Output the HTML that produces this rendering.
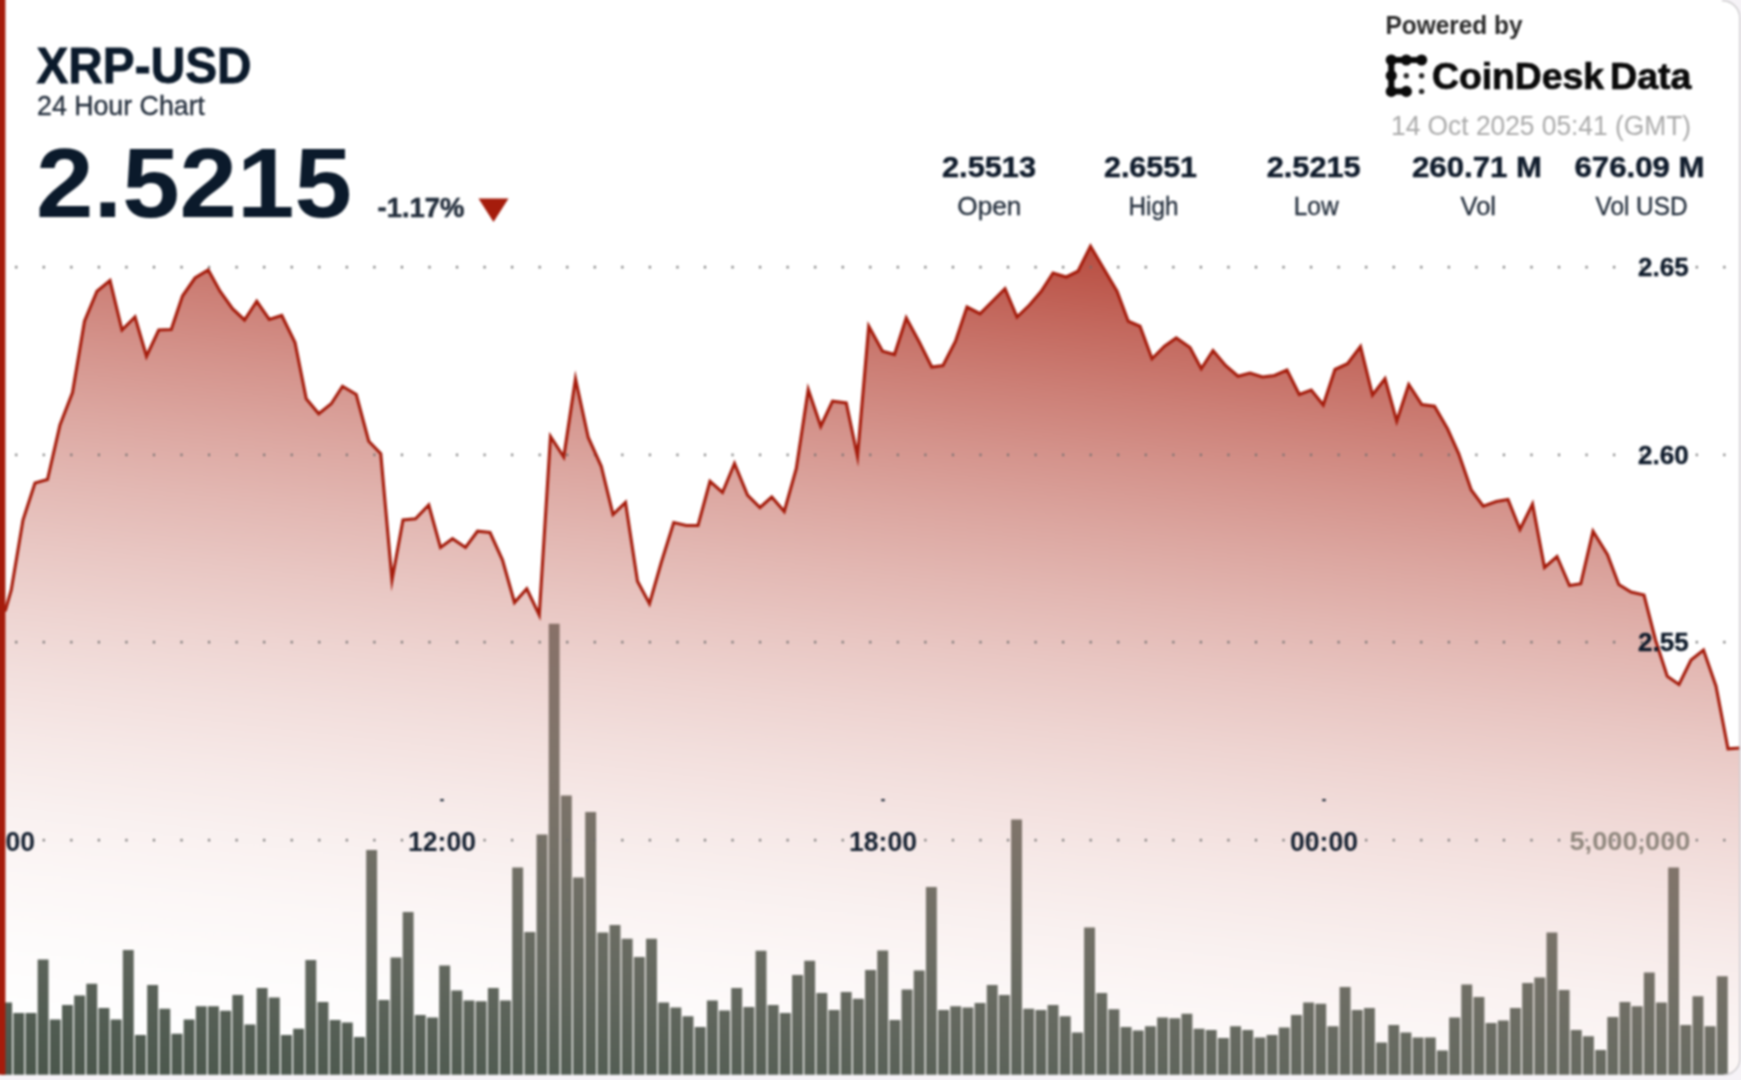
<!DOCTYPE html>
<html lang="en"><head><meta charset="utf-8"><title>XRP-USD 24 Hour Chart</title>
<style>
html,body{margin:0;padding:0;}
body{width:1741px;height:1080px;overflow:hidden;background:#f6f3f7;font-family:"Liberation Sans",sans-serif;}
svg{display:block;position:absolute;left:0;top:0;}
text{font-family:"Liberation Sans",sans-serif;}
.b{font-weight:bold;}
</style></head><body>
<svg width="1741" height="1080" viewBox="0 0 1741 1080">
<defs>
<linearGradient id="ga" gradientUnits="userSpaceOnUse" x1="0" y1="0" x2="-122.1" y2="1061.3">
<stop offset="0.0000" stop-color="#a51c0c" stop-opacity="1.0000"/>
<stop offset="0.0625" stop-color="#a51c0c" stop-opacity="0.8789"/>
<stop offset="0.1250" stop-color="#a51c0c" stop-opacity="0.7656"/>
<stop offset="0.1875" stop-color="#a51c0c" stop-opacity="0.6602"/>
<stop offset="0.2500" stop-color="#a51c0c" stop-opacity="0.5625"/>
<stop offset="0.3125" stop-color="#a51c0c" stop-opacity="0.4727"/>
<stop offset="0.3750" stop-color="#a51c0c" stop-opacity="0.3906"/>
<stop offset="0.4375" stop-color="#a51c0c" stop-opacity="0.3164"/>
<stop offset="0.5000" stop-color="#a51c0c" stop-opacity="0.2500"/>
<stop offset="0.5625" stop-color="#a51c0c" stop-opacity="0.1914"/>
<stop offset="0.6250" stop-color="#a51c0c" stop-opacity="0.1406"/>
<stop offset="0.6875" stop-color="#a51c0c" stop-opacity="0.0977"/>
<stop offset="0.7500" stop-color="#a51c0c" stop-opacity="0.0625"/>
<stop offset="0.8125" stop-color="#a51c0c" stop-opacity="0.0352"/>
<stop offset="0.8750" stop-color="#a51c0c" stop-opacity="0.0156"/>
<stop offset="0.9375" stop-color="#a51c0c" stop-opacity="0.0039"/>
<stop offset="1.0000" stop-color="#a51c0c" stop-opacity="0.0000"/>
</linearGradient>
<linearGradient id="gb" gradientUnits="userSpaceOnUse" x1="0" y1="0" x2="-122.1" y2="1061.3">
<stop offset="0.4000" stop-color="rgb(133,143,136)"/>
<stop offset="0.5410" stop-color="rgb(127,137,130)"/>
<stop offset="0.6640" stop-color="rgb(121,127,118)"/>
<stop offset="0.8540" stop-color="rgb(97,105,96)"/>
<stop offset="0.9450" stop-color="rgb(81,92,82)"/>
<stop offset="1.0000" stop-color="rgb(74,86,75)"/>
<stop offset="1.2000" stop-color="rgb(66,78,67)"/>
</linearGradient>
<clipPath id="card"><path d="M-12 -12H1721.9V0A18 18 0 0 1 1739.9 18V1058.8A16 16 0 0 1 1723.9 1074.8H-12Z"/></clipPath>
<filter id="soft" color-interpolation-filters="sRGB" x="-12" y="-12" width="1765" height="1104" filterUnits="userSpaceOnUse"><feGaussianBlur stdDeviation="0.9"/></filter>
</defs>
<rect x="0" y="0" width="1741" height="1080" fill="#f6f3f7"/>
<g filter="url(#soft)">
<rect x="-12" y="-12" width="1765" height="1104" fill="#f6f3f7"/>
<path d="M-12 -12H1721.9V0A18 18 0 0 1 1739.9 18V1058.8A16 16 0 0 1 1723.9 1074.8H-12Z" fill="#ffffff"/>
<g clip-path="url(#card)">
<g id="bars" fill="url(#gb)">
<rect x="1.15" y="1002.5" width="10.9" height="75.3"/>
<rect x="13.32" y="1013" width="10.9" height="64.8"/>
<rect x="25.49" y="1013" width="10.9" height="64.8"/>
<rect x="37.65" y="959.5" width="10.9" height="118.3"/>
<rect x="49.82" y="1019.5" width="10.9" height="58.3"/>
<rect x="61.99" y="1005" width="10.9" height="72.8"/>
<rect x="74.16" y="995.5" width="10.9" height="82.3"/>
<rect x="86.33" y="983.75" width="10.9" height="94.05"/>
<rect x="98.49" y="1008" width="10.9" height="69.8"/>
<rect x="110.66" y="1019.5" width="10.9" height="58.3"/>
<rect x="122.83" y="950" width="10.9" height="127.8"/>
<rect x="135" y="1035" width="10.9" height="42.8"/>
<rect x="147.17" y="985" width="10.9" height="92.8"/>
<rect x="159.33" y="1008.75" width="10.9" height="69.05"/>
<rect x="171.5" y="1033.75" width="10.9" height="44.05"/>
<rect x="183.67" y="1019.5" width="10.9" height="58.3"/>
<rect x="195.84" y="1006.25" width="10.9" height="71.55"/>
<rect x="208.01" y="1006.25" width="10.9" height="71.55"/>
<rect x="220.17" y="1010.75" width="10.9" height="67.05"/>
<rect x="232.34" y="995" width="10.9" height="82.8"/>
<rect x="244.51" y="1024.5" width="10.9" height="53.3"/>
<rect x="256.68" y="988" width="10.9" height="89.8"/>
<rect x="268.85" y="997.5" width="10.9" height="80.3"/>
<rect x="281.01" y="1035" width="10.9" height="42.8"/>
<rect x="293.18" y="1028.75" width="10.9" height="49.05"/>
<rect x="305.35" y="960" width="10.9" height="117.8"/>
<rect x="317.52" y="1002" width="10.9" height="75.8"/>
<rect x="329.69" y="1020" width="10.9" height="57.8"/>
<rect x="341.85" y="1022.5" width="10.9" height="55.3"/>
<rect x="354.02" y="1037" width="10.9" height="40.8"/>
<rect x="366.19" y="850" width="10.9" height="227.8"/>
<rect x="378.36" y="1000" width="10.9" height="77.8"/>
<rect x="390.53" y="957.5" width="10.9" height="120.3"/>
<rect x="402.69" y="912" width="10.9" height="165.8"/>
<rect x="414.86" y="1015" width="10.9" height="62.8"/>
<rect x="427.03" y="1017.5" width="10.9" height="60.3"/>
<rect x="439.2" y="965.5" width="10.9" height="112.3"/>
<rect x="451.37" y="990.5" width="10.9" height="87.3"/>
<rect x="463.53" y="1000.5" width="10.9" height="77.3"/>
<rect x="475.7" y="1001.25" width="10.9" height="76.55"/>
<rect x="487.87" y="988" width="10.9" height="89.8"/>
<rect x="500.04" y="1000.5" width="10.9" height="77.3"/>
<rect x="512.21" y="867.5" width="10.9" height="210.3"/>
<rect x="524.37" y="932" width="10.9" height="145.8"/>
<rect x="536.54" y="834.5" width="10.9" height="243.3"/>
<rect x="548.71" y="623.75" width="10.9" height="454.05"/>
<rect x="560.88" y="795.5" width="10.9" height="282.3"/>
<rect x="573.05" y="877.5" width="10.9" height="200.3"/>
<rect x="585.21" y="812" width="10.9" height="265.8"/>
<rect x="597.38" y="932.5" width="10.9" height="145.3"/>
<rect x="609.55" y="925" width="10.9" height="152.8"/>
<rect x="621.72" y="938.75" width="10.9" height="139.05"/>
<rect x="633.89" y="957" width="10.9" height="120.8"/>
<rect x="646.05" y="938.75" width="10.9" height="139.05"/>
<rect x="658.22" y="1002.5" width="10.9" height="75.3"/>
<rect x="670.39" y="1007.5" width="10.9" height="70.3"/>
<rect x="682.56" y="1016.25" width="10.9" height="61.55"/>
<rect x="694.73" y="1027" width="10.9" height="50.8"/>
<rect x="706.89" y="1000.5" width="10.9" height="77.3"/>
<rect x="719.06" y="1010.5" width="10.9" height="67.3"/>
<rect x="731.23" y="988" width="10.9" height="89.8"/>
<rect x="743.4" y="1007" width="10.9" height="70.8"/>
<rect x="755.57" y="950.75" width="10.9" height="127.05"/>
<rect x="767.73" y="1005" width="10.9" height="72.8"/>
<rect x="779.9" y="1013" width="10.9" height="64.8"/>
<rect x="792.07" y="975" width="10.9" height="102.8"/>
<rect x="804.24" y="960.75" width="10.9" height="117.05"/>
<rect x="816.41" y="993" width="10.9" height="84.8"/>
<rect x="828.57" y="1010" width="10.9" height="67.8"/>
<rect x="840.74" y="992" width="10.9" height="85.8"/>
<rect x="852.91" y="998.75" width="10.9" height="79.05"/>
<rect x="865.08" y="970" width="10.9" height="107.8"/>
<rect x="877.25" y="950.5" width="10.9" height="127.3"/>
<rect x="889.41" y="1020" width="10.9" height="57.8"/>
<rect x="901.58" y="989.5" width="10.9" height="88.3"/>
<rect x="913.75" y="970.5" width="10.9" height="107.3"/>
<rect x="925.92" y="887" width="10.9" height="190.8"/>
<rect x="938.09" y="1010" width="10.9" height="67.8"/>
<rect x="950.25" y="1006.25" width="10.9" height="71.55"/>
<rect x="962.42" y="1007.5" width="10.9" height="70.3"/>
<rect x="974.59" y="1003" width="10.9" height="74.8"/>
<rect x="986.76" y="985" width="10.9" height="92.8"/>
<rect x="998.93" y="995" width="10.9" height="82.8"/>
<rect x="1011.09" y="819.5" width="10.9" height="258.3"/>
<rect x="1023.26" y="1008.75" width="10.9" height="69.05"/>
<rect x="1035.43" y="1010" width="10.9" height="67.8"/>
<rect x="1047.6" y="1005" width="10.9" height="72.8"/>
<rect x="1059.77" y="1016.25" width="10.9" height="61.55"/>
<rect x="1071.93" y="1032.5" width="10.9" height="45.3"/>
<rect x="1084.1" y="927.5" width="10.9" height="150.3"/>
<rect x="1096.27" y="993" width="10.9" height="84.8"/>
<rect x="1108.44" y="1009.25" width="10.9" height="68.55"/>
<rect x="1120.61" y="1027" width="10.9" height="50.8"/>
<rect x="1132.77" y="1030.5" width="10.9" height="47.3"/>
<rect x="1144.94" y="1026.25" width="10.9" height="51.55"/>
<rect x="1157.11" y="1017.5" width="10.9" height="60.3"/>
<rect x="1169.28" y="1018.25" width="10.9" height="59.55"/>
<rect x="1181.45" y="1013.75" width="10.9" height="64.05"/>
<rect x="1193.61" y="1028.75" width="10.9" height="49.05"/>
<rect x="1205.78" y="1030" width="10.9" height="47.8"/>
<rect x="1217.95" y="1038" width="10.9" height="39.8"/>
<rect x="1230.12" y="1026.25" width="10.9" height="51.55"/>
<rect x="1242.29" y="1030" width="10.9" height="47.8"/>
<rect x="1254.45" y="1037.5" width="10.9" height="40.3"/>
<rect x="1266.62" y="1035" width="10.9" height="42.8"/>
<rect x="1278.79" y="1027.5" width="10.9" height="50.3"/>
<rect x="1290.96" y="1015" width="10.9" height="62.8"/>
<rect x="1303.13" y="1002.5" width="10.9" height="75.3"/>
<rect x="1315.29" y="1003.75" width="10.9" height="74.05"/>
<rect x="1327.46" y="1026.25" width="10.9" height="51.55"/>
<rect x="1339.63" y="987" width="10.9" height="90.8"/>
<rect x="1351.8" y="1010" width="10.9" height="67.8"/>
<rect x="1363.97" y="1008" width="10.9" height="69.8"/>
<rect x="1376.13" y="1042.5" width="10.9" height="35.3"/>
<rect x="1388.3" y="1025" width="10.9" height="52.8"/>
<rect x="1400.47" y="1032.5" width="10.9" height="45.3"/>
<rect x="1412.64" y="1037.5" width="10.9" height="40.3"/>
<rect x="1424.81" y="1037.5" width="10.9" height="40.3"/>
<rect x="1436.97" y="1050.5" width="10.9" height="27.3"/>
<rect x="1449.14" y="1017.5" width="10.9" height="60.3"/>
<rect x="1461.31" y="984.5" width="10.9" height="93.3"/>
<rect x="1473.48" y="997" width="10.9" height="80.8"/>
<rect x="1485.65" y="1023" width="10.9" height="54.8"/>
<rect x="1497.81" y="1020.5" width="10.9" height="57.3"/>
<rect x="1509.98" y="1008" width="10.9" height="69.8"/>
<rect x="1522.15" y="983" width="10.9" height="94.8"/>
<rect x="1534.32" y="977.5" width="10.9" height="100.3"/>
<rect x="1546.49" y="932.5" width="10.9" height="145.3"/>
<rect x="1558.65" y="990" width="10.9" height="87.8"/>
<rect x="1570.82" y="1030" width="10.9" height="47.8"/>
<rect x="1582.99" y="1036.25" width="10.9" height="41.55"/>
<rect x="1595.16" y="1050" width="10.9" height="27.8"/>
<rect x="1607.33" y="1017" width="10.9" height="60.8"/>
<rect x="1619.49" y="1002" width="10.9" height="75.8"/>
<rect x="1631.66" y="1006.25" width="10.9" height="71.55"/>
<rect x="1643.83" y="972.5" width="10.9" height="105.3"/>
<rect x="1656" y="1002.5" width="10.9" height="75.3"/>
<rect x="1668.17" y="867.5" width="10.9" height="210.3"/>
<rect x="1680.33" y="1025" width="10.9" height="52.8"/>
<rect x="1692.5" y="996.25" width="10.9" height="81.55"/>
<rect x="1704.67" y="1026.25" width="10.9" height="51.55"/>
<rect x="1716.84" y="976.25" width="10.9" height="101.55"/>
</g>
<polygon points="-12,1074.8 -12,612 0,612 5.5,610 11.25,590 23,520 35,483 47.5,479.5 60,425 72.5,392.5 84.5,321.25 97,291.25 110,280.5 122,330 135,317 146.5,356.25 158.75,330 171.25,329.5 182.5,296 195,278 208.25,270 220,291.25 232.5,308.75 244.5,320 256.75,301.25 269.25,319.5 281.75,315.5 295,342.5 306.25,398.75 318.75,413.75 331.25,403.75 342.5,386.25 356.25,394.5 368.75,441.25 380.75,453.75 392,580 403,520 415.5,518.75 428.75,505 440.5,547.5 452.5,538.75 465.5,547.5 477.5,531.25 490,532.5 502.5,560 514.5,602.5 526.75,588.75 539.25,615 550.5,436.5 563.75,457 575.5,378.75 588.25,437.5 601.25,466.25 613,514.5 625.5,502.5 637.5,581.25 649.5,603.75 661.25,562.5 673.75,522.5 686.25,525.5 698,525.5 710,481.25 722.5,492.5 734.5,463.5 747.5,495 760,507.5 771.75,497 784.25,511.5 796.25,468.75 808.25,389.5 820.75,426.25 832.5,401.25 846.25,403 857.5,456.5 868.75,326.25 882.5,351.25 894.5,354.5 906.25,318 919.5,342.5 931.75,367 943,365.5 955.5,341.25 967,307 980,313.75 992.5,301.25 1005,288.75 1017,317 1029.5,305 1041.25,291.25 1053,273 1066.25,277 1078,271.25 1090.5,246.25 1103.75,268.75 1117,291.25 1128.25,321.25 1140,326.25 1152,358.75 1164.5,346.25 1176.25,338 1190,347.5 1201.25,368.75 1213,350.5 1225.5,365.5 1238,376.25 1250,373 1262.5,377 1274.5,375.5 1287,370 1299.25,394.5 1311.25,390 1323.25,405 1335,369.5 1347.5,363.75 1360.5,346.5 1372.5,395 1385,378.75 1396.75,421.25 1408.75,384.5 1421.75,404.5 1434.5,406.25 1447.5,428.75 1458.75,453.75 1471.25,490 1483.25,506.25 1496.25,501.5 1508,499.5 1520,529.5 1532.5,504 1544.5,567.5 1557,556.5 1569.5,585.5 1580.75,583.75 1593,531.25 1607.5,554.75 1618.75,584.5 1631,592 1644,595 1655.5,640 1667.25,676.25 1679,684.5 1691,660 1703.5,650 1716,686.25 1728,748.75 1741,748 1753,748 1753,1074.8" fill="url(#ga)"/>
<g id="grid" fill="#6c6c6c">
<ellipse cx="16.25" cy="267.2" rx="1.05" ry="1.4"/>
<ellipse cx="43.8" cy="267.2" rx="1.05" ry="1.4"/>
<ellipse cx="71.35" cy="267.2" rx="1.05" ry="1.4"/>
<ellipse cx="98.9" cy="267.2" rx="1.05" ry="1.4"/>
<ellipse cx="126.45" cy="267.2" rx="1.05" ry="1.4"/>
<ellipse cx="154" cy="267.2" rx="1.05" ry="1.4"/>
<ellipse cx="181.55" cy="267.2" rx="1.05" ry="1.4"/>
<ellipse cx="209.1" cy="267.2" rx="1.05" ry="1.4"/>
<ellipse cx="236.65" cy="267.2" rx="1.05" ry="1.4"/>
<ellipse cx="264.2" cy="267.2" rx="1.05" ry="1.4"/>
<ellipse cx="291.75" cy="267.2" rx="1.05" ry="1.4"/>
<ellipse cx="319.3" cy="267.2" rx="1.05" ry="1.4"/>
<ellipse cx="346.85" cy="267.2" rx="1.05" ry="1.4"/>
<ellipse cx="374.4" cy="267.2" rx="1.05" ry="1.4"/>
<ellipse cx="401.95" cy="267.2" rx="1.05" ry="1.4"/>
<ellipse cx="429.5" cy="267.2" rx="1.05" ry="1.4"/>
<ellipse cx="457.05" cy="267.2" rx="1.05" ry="1.4"/>
<ellipse cx="484.6" cy="267.2" rx="1.05" ry="1.4"/>
<ellipse cx="512.15" cy="267.2" rx="1.05" ry="1.4"/>
<ellipse cx="539.7" cy="267.2" rx="1.05" ry="1.4"/>
<ellipse cx="567.25" cy="267.2" rx="1.05" ry="1.4"/>
<ellipse cx="594.8" cy="267.2" rx="1.05" ry="1.4"/>
<ellipse cx="622.35" cy="267.2" rx="1.05" ry="1.4"/>
<ellipse cx="649.9" cy="267.2" rx="1.05" ry="1.4"/>
<ellipse cx="677.45" cy="267.2" rx="1.05" ry="1.4"/>
<ellipse cx="705" cy="267.2" rx="1.05" ry="1.4"/>
<ellipse cx="732.55" cy="267.2" rx="1.05" ry="1.4"/>
<ellipse cx="760.1" cy="267.2" rx="1.05" ry="1.4"/>
<ellipse cx="787.65" cy="267.2" rx="1.05" ry="1.4"/>
<ellipse cx="815.2" cy="267.2" rx="1.05" ry="1.4"/>
<ellipse cx="842.75" cy="267.2" rx="1.05" ry="1.4"/>
<ellipse cx="870.3" cy="267.2" rx="1.05" ry="1.4"/>
<ellipse cx="897.85" cy="267.2" rx="1.05" ry="1.4"/>
<ellipse cx="925.4" cy="267.2" rx="1.05" ry="1.4"/>
<ellipse cx="952.95" cy="267.2" rx="1.05" ry="1.4"/>
<ellipse cx="980.5" cy="267.2" rx="1.05" ry="1.4"/>
<ellipse cx="1008.05" cy="267.2" rx="1.05" ry="1.4"/>
<ellipse cx="1035.6" cy="267.2" rx="1.05" ry="1.4"/>
<ellipse cx="1063.15" cy="267.2" rx="1.05" ry="1.4"/>
<ellipse cx="1090.7" cy="267.2" rx="1.05" ry="1.4"/>
<ellipse cx="1118.25" cy="267.2" rx="1.05" ry="1.4"/>
<ellipse cx="1145.8" cy="267.2" rx="1.05" ry="1.4"/>
<ellipse cx="1173.35" cy="267.2" rx="1.05" ry="1.4"/>
<ellipse cx="1200.9" cy="267.2" rx="1.05" ry="1.4"/>
<ellipse cx="1228.45" cy="267.2" rx="1.05" ry="1.4"/>
<ellipse cx="1256" cy="267.2" rx="1.05" ry="1.4"/>
<ellipse cx="1283.55" cy="267.2" rx="1.05" ry="1.4"/>
<ellipse cx="1311.1" cy="267.2" rx="1.05" ry="1.4"/>
<ellipse cx="1338.65" cy="267.2" rx="1.05" ry="1.4"/>
<ellipse cx="1366.2" cy="267.2" rx="1.05" ry="1.4"/>
<ellipse cx="1393.75" cy="267.2" rx="1.05" ry="1.4"/>
<ellipse cx="1421.3" cy="267.2" rx="1.05" ry="1.4"/>
<ellipse cx="1448.85" cy="267.2" rx="1.05" ry="1.4"/>
<ellipse cx="1476.4" cy="267.2" rx="1.05" ry="1.4"/>
<ellipse cx="1503.95" cy="267.2" rx="1.05" ry="1.4"/>
<ellipse cx="1531.5" cy="267.2" rx="1.05" ry="1.4"/>
<ellipse cx="1559.05" cy="267.2" rx="1.05" ry="1.4"/>
<ellipse cx="1586.6" cy="267.2" rx="1.05" ry="1.4"/>
<ellipse cx="1614.15" cy="267.2" rx="1.05" ry="1.4"/>
<ellipse cx="1641.7" cy="267.2" rx="1.05" ry="1.4"/>
<ellipse cx="1669.25" cy="267.2" rx="1.05" ry="1.4"/>
<ellipse cx="1696.8" cy="267.2" rx="1.05" ry="1.4"/>
<ellipse cx="1724.35" cy="267.2" rx="1.05" ry="1.4"/>
<ellipse cx="16.25" cy="454.9" rx="1.05" ry="1.4"/>
<ellipse cx="43.8" cy="454.9" rx="1.05" ry="1.4"/>
<ellipse cx="71.35" cy="454.9" rx="1.05" ry="1.4"/>
<ellipse cx="98.9" cy="454.9" rx="1.05" ry="1.4"/>
<ellipse cx="126.45" cy="454.9" rx="1.05" ry="1.4"/>
<ellipse cx="154" cy="454.9" rx="1.05" ry="1.4"/>
<ellipse cx="181.55" cy="454.9" rx="1.05" ry="1.4"/>
<ellipse cx="209.1" cy="454.9" rx="1.05" ry="1.4"/>
<ellipse cx="236.65" cy="454.9" rx="1.05" ry="1.4"/>
<ellipse cx="264.2" cy="454.9" rx="1.05" ry="1.4"/>
<ellipse cx="291.75" cy="454.9" rx="1.05" ry="1.4"/>
<ellipse cx="319.3" cy="454.9" rx="1.05" ry="1.4"/>
<ellipse cx="346.85" cy="454.9" rx="1.05" ry="1.4"/>
<ellipse cx="374.4" cy="454.9" rx="1.05" ry="1.4"/>
<ellipse cx="401.95" cy="454.9" rx="1.05" ry="1.4"/>
<ellipse cx="429.5" cy="454.9" rx="1.05" ry="1.4"/>
<ellipse cx="457.05" cy="454.9" rx="1.05" ry="1.4"/>
<ellipse cx="484.6" cy="454.9" rx="1.05" ry="1.4"/>
<ellipse cx="512.15" cy="454.9" rx="1.05" ry="1.4"/>
<ellipse cx="539.7" cy="454.9" rx="1.05" ry="1.4"/>
<ellipse cx="567.25" cy="454.9" rx="1.05" ry="1.4"/>
<ellipse cx="594.8" cy="454.9" rx="1.05" ry="1.4"/>
<ellipse cx="622.35" cy="454.9" rx="1.05" ry="1.4"/>
<ellipse cx="649.9" cy="454.9" rx="1.05" ry="1.4"/>
<ellipse cx="677.45" cy="454.9" rx="1.05" ry="1.4"/>
<ellipse cx="705" cy="454.9" rx="1.05" ry="1.4"/>
<ellipse cx="732.55" cy="454.9" rx="1.05" ry="1.4"/>
<ellipse cx="760.1" cy="454.9" rx="1.05" ry="1.4"/>
<ellipse cx="787.65" cy="454.9" rx="1.05" ry="1.4"/>
<ellipse cx="815.2" cy="454.9" rx="1.05" ry="1.4"/>
<ellipse cx="842.75" cy="454.9" rx="1.05" ry="1.4"/>
<ellipse cx="870.3" cy="454.9" rx="1.05" ry="1.4"/>
<ellipse cx="897.85" cy="454.9" rx="1.05" ry="1.4"/>
<ellipse cx="925.4" cy="454.9" rx="1.05" ry="1.4"/>
<ellipse cx="952.95" cy="454.9" rx="1.05" ry="1.4"/>
<ellipse cx="980.5" cy="454.9" rx="1.05" ry="1.4"/>
<ellipse cx="1008.05" cy="454.9" rx="1.05" ry="1.4"/>
<ellipse cx="1035.6" cy="454.9" rx="1.05" ry="1.4"/>
<ellipse cx="1063.15" cy="454.9" rx="1.05" ry="1.4"/>
<ellipse cx="1090.7" cy="454.9" rx="1.05" ry="1.4"/>
<ellipse cx="1118.25" cy="454.9" rx="1.05" ry="1.4"/>
<ellipse cx="1145.8" cy="454.9" rx="1.05" ry="1.4"/>
<ellipse cx="1173.35" cy="454.9" rx="1.05" ry="1.4"/>
<ellipse cx="1200.9" cy="454.9" rx="1.05" ry="1.4"/>
<ellipse cx="1228.45" cy="454.9" rx="1.05" ry="1.4"/>
<ellipse cx="1256" cy="454.9" rx="1.05" ry="1.4"/>
<ellipse cx="1283.55" cy="454.9" rx="1.05" ry="1.4"/>
<ellipse cx="1311.1" cy="454.9" rx="1.05" ry="1.4"/>
<ellipse cx="1338.65" cy="454.9" rx="1.05" ry="1.4"/>
<ellipse cx="1366.2" cy="454.9" rx="1.05" ry="1.4"/>
<ellipse cx="1393.75" cy="454.9" rx="1.05" ry="1.4"/>
<ellipse cx="1421.3" cy="454.9" rx="1.05" ry="1.4"/>
<ellipse cx="1448.85" cy="454.9" rx="1.05" ry="1.4"/>
<ellipse cx="1476.4" cy="454.9" rx="1.05" ry="1.4"/>
<ellipse cx="1503.95" cy="454.9" rx="1.05" ry="1.4"/>
<ellipse cx="1531.5" cy="454.9" rx="1.05" ry="1.4"/>
<ellipse cx="1559.05" cy="454.9" rx="1.05" ry="1.4"/>
<ellipse cx="1586.6" cy="454.9" rx="1.05" ry="1.4"/>
<ellipse cx="1614.15" cy="454.9" rx="1.05" ry="1.4"/>
<ellipse cx="1641.7" cy="454.9" rx="1.05" ry="1.4"/>
<ellipse cx="1669.25" cy="454.9" rx="1.05" ry="1.4"/>
<ellipse cx="1696.8" cy="454.9" rx="1.05" ry="1.4"/>
<ellipse cx="1724.35" cy="454.9" rx="1.05" ry="1.4"/>
<ellipse cx="16.25" cy="642.2" rx="1.05" ry="1.4"/>
<ellipse cx="43.8" cy="642.2" rx="1.05" ry="1.4"/>
<ellipse cx="71.35" cy="642.2" rx="1.05" ry="1.4"/>
<ellipse cx="98.9" cy="642.2" rx="1.05" ry="1.4"/>
<ellipse cx="126.45" cy="642.2" rx="1.05" ry="1.4"/>
<ellipse cx="154" cy="642.2" rx="1.05" ry="1.4"/>
<ellipse cx="181.55" cy="642.2" rx="1.05" ry="1.4"/>
<ellipse cx="209.1" cy="642.2" rx="1.05" ry="1.4"/>
<ellipse cx="236.65" cy="642.2" rx="1.05" ry="1.4"/>
<ellipse cx="264.2" cy="642.2" rx="1.05" ry="1.4"/>
<ellipse cx="291.75" cy="642.2" rx="1.05" ry="1.4"/>
<ellipse cx="319.3" cy="642.2" rx="1.05" ry="1.4"/>
<ellipse cx="346.85" cy="642.2" rx="1.05" ry="1.4"/>
<ellipse cx="374.4" cy="642.2" rx="1.05" ry="1.4"/>
<ellipse cx="401.95" cy="642.2" rx="1.05" ry="1.4"/>
<ellipse cx="429.5" cy="642.2" rx="1.05" ry="1.4"/>
<ellipse cx="457.05" cy="642.2" rx="1.05" ry="1.4"/>
<ellipse cx="484.6" cy="642.2" rx="1.05" ry="1.4"/>
<ellipse cx="512.15" cy="642.2" rx="1.05" ry="1.4"/>
<ellipse cx="539.7" cy="642.2" rx="1.05" ry="1.4"/>
<ellipse cx="567.25" cy="642.2" rx="1.05" ry="1.4"/>
<ellipse cx="594.8" cy="642.2" rx="1.05" ry="1.4"/>
<ellipse cx="622.35" cy="642.2" rx="1.05" ry="1.4"/>
<ellipse cx="649.9" cy="642.2" rx="1.05" ry="1.4"/>
<ellipse cx="677.45" cy="642.2" rx="1.05" ry="1.4"/>
<ellipse cx="705" cy="642.2" rx="1.05" ry="1.4"/>
<ellipse cx="732.55" cy="642.2" rx="1.05" ry="1.4"/>
<ellipse cx="760.1" cy="642.2" rx="1.05" ry="1.4"/>
<ellipse cx="787.65" cy="642.2" rx="1.05" ry="1.4"/>
<ellipse cx="815.2" cy="642.2" rx="1.05" ry="1.4"/>
<ellipse cx="842.75" cy="642.2" rx="1.05" ry="1.4"/>
<ellipse cx="870.3" cy="642.2" rx="1.05" ry="1.4"/>
<ellipse cx="897.85" cy="642.2" rx="1.05" ry="1.4"/>
<ellipse cx="925.4" cy="642.2" rx="1.05" ry="1.4"/>
<ellipse cx="952.95" cy="642.2" rx="1.05" ry="1.4"/>
<ellipse cx="980.5" cy="642.2" rx="1.05" ry="1.4"/>
<ellipse cx="1008.05" cy="642.2" rx="1.05" ry="1.4"/>
<ellipse cx="1035.6" cy="642.2" rx="1.05" ry="1.4"/>
<ellipse cx="1063.15" cy="642.2" rx="1.05" ry="1.4"/>
<ellipse cx="1090.7" cy="642.2" rx="1.05" ry="1.4"/>
<ellipse cx="1118.25" cy="642.2" rx="1.05" ry="1.4"/>
<ellipse cx="1145.8" cy="642.2" rx="1.05" ry="1.4"/>
<ellipse cx="1173.35" cy="642.2" rx="1.05" ry="1.4"/>
<ellipse cx="1200.9" cy="642.2" rx="1.05" ry="1.4"/>
<ellipse cx="1228.45" cy="642.2" rx="1.05" ry="1.4"/>
<ellipse cx="1256" cy="642.2" rx="1.05" ry="1.4"/>
<ellipse cx="1283.55" cy="642.2" rx="1.05" ry="1.4"/>
<ellipse cx="1311.1" cy="642.2" rx="1.05" ry="1.4"/>
<ellipse cx="1338.65" cy="642.2" rx="1.05" ry="1.4"/>
<ellipse cx="1366.2" cy="642.2" rx="1.05" ry="1.4"/>
<ellipse cx="1393.75" cy="642.2" rx="1.05" ry="1.4"/>
<ellipse cx="1421.3" cy="642.2" rx="1.05" ry="1.4"/>
<ellipse cx="1448.85" cy="642.2" rx="1.05" ry="1.4"/>
<ellipse cx="1476.4" cy="642.2" rx="1.05" ry="1.4"/>
<ellipse cx="1503.95" cy="642.2" rx="1.05" ry="1.4"/>
<ellipse cx="1531.5" cy="642.2" rx="1.05" ry="1.4"/>
<ellipse cx="1559.05" cy="642.2" rx="1.05" ry="1.4"/>
<ellipse cx="1586.6" cy="642.2" rx="1.05" ry="1.4"/>
<ellipse cx="1614.15" cy="642.2" rx="1.05" ry="1.4"/>
<ellipse cx="1641.7" cy="642.2" rx="1.05" ry="1.4"/>
<ellipse cx="1669.25" cy="642.2" rx="1.05" ry="1.4"/>
<ellipse cx="1696.8" cy="642.2" rx="1.05" ry="1.4"/>
<ellipse cx="1724.35" cy="642.2" rx="1.05" ry="1.4"/>
<ellipse cx="16.25" cy="840.2" rx="1.05" ry="1.4"/>
<ellipse cx="43.8" cy="840.2" rx="1.05" ry="1.4"/>
<ellipse cx="71.35" cy="840.2" rx="1.05" ry="1.4"/>
<ellipse cx="98.9" cy="840.2" rx="1.05" ry="1.4"/>
<ellipse cx="126.45" cy="840.2" rx="1.05" ry="1.4"/>
<ellipse cx="154" cy="840.2" rx="1.05" ry="1.4"/>
<ellipse cx="181.55" cy="840.2" rx="1.05" ry="1.4"/>
<ellipse cx="209.1" cy="840.2" rx="1.05" ry="1.4"/>
<ellipse cx="236.65" cy="840.2" rx="1.05" ry="1.4"/>
<ellipse cx="264.2" cy="840.2" rx="1.05" ry="1.4"/>
<ellipse cx="291.75" cy="840.2" rx="1.05" ry="1.4"/>
<ellipse cx="319.3" cy="840.2" rx="1.05" ry="1.4"/>
<ellipse cx="346.85" cy="840.2" rx="1.05" ry="1.4"/>
<ellipse cx="374.4" cy="840.2" rx="1.05" ry="1.4"/>
<ellipse cx="401.95" cy="840.2" rx="1.05" ry="1.4"/>
<ellipse cx="429.5" cy="840.2" rx="1.05" ry="1.4"/>
<ellipse cx="457.05" cy="840.2" rx="1.05" ry="1.4"/>
<ellipse cx="484.6" cy="840.2" rx="1.05" ry="1.4"/>
<ellipse cx="512.15" cy="840.2" rx="1.05" ry="1.4"/>
<ellipse cx="539.7" cy="840.2" rx="1.05" ry="1.4"/>
<ellipse cx="567.25" cy="840.2" rx="1.05" ry="1.4"/>
<ellipse cx="594.8" cy="840.2" rx="1.05" ry="1.4"/>
<ellipse cx="622.35" cy="840.2" rx="1.05" ry="1.4"/>
<ellipse cx="649.9" cy="840.2" rx="1.05" ry="1.4"/>
<ellipse cx="677.45" cy="840.2" rx="1.05" ry="1.4"/>
<ellipse cx="705" cy="840.2" rx="1.05" ry="1.4"/>
<ellipse cx="732.55" cy="840.2" rx="1.05" ry="1.4"/>
<ellipse cx="760.1" cy="840.2" rx="1.05" ry="1.4"/>
<ellipse cx="787.65" cy="840.2" rx="1.05" ry="1.4"/>
<ellipse cx="815.2" cy="840.2" rx="1.05" ry="1.4"/>
<ellipse cx="842.75" cy="840.2" rx="1.05" ry="1.4"/>
<ellipse cx="870.3" cy="840.2" rx="1.05" ry="1.4"/>
<ellipse cx="897.85" cy="840.2" rx="1.05" ry="1.4"/>
<ellipse cx="925.4" cy="840.2" rx="1.05" ry="1.4"/>
<ellipse cx="952.95" cy="840.2" rx="1.05" ry="1.4"/>
<ellipse cx="980.5" cy="840.2" rx="1.05" ry="1.4"/>
<ellipse cx="1008.05" cy="840.2" rx="1.05" ry="1.4"/>
<ellipse cx="1035.6" cy="840.2" rx="1.05" ry="1.4"/>
<ellipse cx="1063.15" cy="840.2" rx="1.05" ry="1.4"/>
<ellipse cx="1090.7" cy="840.2" rx="1.05" ry="1.4"/>
<ellipse cx="1118.25" cy="840.2" rx="1.05" ry="1.4"/>
<ellipse cx="1145.8" cy="840.2" rx="1.05" ry="1.4"/>
<ellipse cx="1173.35" cy="840.2" rx="1.05" ry="1.4"/>
<ellipse cx="1200.9" cy="840.2" rx="1.05" ry="1.4"/>
<ellipse cx="1228.45" cy="840.2" rx="1.05" ry="1.4"/>
<ellipse cx="1256" cy="840.2" rx="1.05" ry="1.4"/>
<ellipse cx="1283.55" cy="840.2" rx="1.05" ry="1.4"/>
<ellipse cx="1311.1" cy="840.2" rx="1.05" ry="1.4"/>
<ellipse cx="1338.65" cy="840.2" rx="1.05" ry="1.4"/>
<ellipse cx="1366.2" cy="840.2" rx="1.05" ry="1.4"/>
<ellipse cx="1393.75" cy="840.2" rx="1.05" ry="1.4"/>
<ellipse cx="1421.3" cy="840.2" rx="1.05" ry="1.4"/>
<ellipse cx="1448.85" cy="840.2" rx="1.05" ry="1.4"/>
<ellipse cx="1476.4" cy="840.2" rx="1.05" ry="1.4"/>
<ellipse cx="1503.95" cy="840.2" rx="1.05" ry="1.4"/>
<ellipse cx="1531.5" cy="840.2" rx="1.05" ry="1.4"/>
<ellipse cx="1559.05" cy="840.2" rx="1.05" ry="1.4"/>
<ellipse cx="1586.6" cy="840.2" rx="1.05" ry="1.4"/>
<ellipse cx="1614.15" cy="840.2" rx="1.05" ry="1.4"/>
<ellipse cx="1641.7" cy="840.2" rx="1.05" ry="1.4"/>
<ellipse cx="1669.25" cy="840.2" rx="1.05" ry="1.4"/>
<ellipse cx="1696.8" cy="840.2" rx="1.05" ry="1.4"/>
<ellipse cx="1724.35" cy="840.2" rx="1.05" ry="1.4"/>
</g>
<polyline points="0,612 5.5,610 11.25,590 23,520 35,483 47.5,479.5 60,425 72.5,392.5 84.5,321.25 97,291.25 110,280.5 122,330 135,317 146.5,356.25 158.75,330 171.25,329.5 182.5,296 195,278 208.25,270 220,291.25 232.5,308.75 244.5,320 256.75,301.25 269.25,319.5 281.75,315.5 295,342.5 306.25,398.75 318.75,413.75 331.25,403.75 342.5,386.25 356.25,394.5 368.75,441.25 380.75,453.75 392,580 403,520 415.5,518.75 428.75,505 440.5,547.5 452.5,538.75 465.5,547.5 477.5,531.25 490,532.5 502.5,560 514.5,602.5 526.75,588.75 539.25,615 550.5,436.5 563.75,457 575.5,378.75 588.25,437.5 601.25,466.25 613,514.5 625.5,502.5 637.5,581.25 649.5,603.75 661.25,562.5 673.75,522.5 686.25,525.5 698,525.5 710,481.25 722.5,492.5 734.5,463.5 747.5,495 760,507.5 771.75,497 784.25,511.5 796.25,468.75 808.25,389.5 820.75,426.25 832.5,401.25 846.25,403 857.5,456.5 868.75,326.25 882.5,351.25 894.5,354.5 906.25,318 919.5,342.5 931.75,367 943,365.5 955.5,341.25 967,307 980,313.75 992.5,301.25 1005,288.75 1017,317 1029.5,305 1041.25,291.25 1053,273 1066.25,277 1078,271.25 1090.5,246.25 1103.75,268.75 1117,291.25 1128.25,321.25 1140,326.25 1152,358.75 1164.5,346.25 1176.25,338 1190,347.5 1201.25,368.75 1213,350.5 1225.5,365.5 1238,376.25 1250,373 1262.5,377 1274.5,375.5 1287,370 1299.25,394.5 1311.25,390 1323.25,405 1335,369.5 1347.5,363.75 1360.5,346.5 1372.5,395 1385,378.75 1396.75,421.25 1408.75,384.5 1421.75,404.5 1434.5,406.25 1447.5,428.75 1458.75,453.75 1471.25,490 1483.25,506.25 1496.25,501.5 1508,499.5 1520,529.5 1532.5,504 1544.5,567.5 1557,556.5 1569.5,585.5 1580.75,583.75 1593,531.25 1607.5,554.75 1618.75,584.5 1631,592 1644,595 1655.5,640 1667.25,676.25 1679,684.5 1691,660 1703.5,650 1716,686.25 1728,748.75 1741,748" fill="none" stroke="#a51c0c" stroke-width="3.1" stroke-linejoin="miter" stroke-miterlimit="10"/>
</g>
<path d="M1721.9 0.5A18 18 0 0 1 1739.9 18V1058.8A16 16 0 0 1 1723.9 1074.8" fill="none" stroke="#cbc9cb" stroke-width="1.4"/>
<text x="36.5" y="82.5" font-size="50" class="b" fill="#0b1a2b" text-anchor="start" textLength="215" lengthAdjust="spacingAndGlyphs" stroke="#0b1a2b" stroke-width="0.8">XRP-USD</text>
<text x="37" y="115" font-size="27.5" fill="#222d3b" text-anchor="start" textLength="168" lengthAdjust="spacingAndGlyphs" stroke="#222d3b" stroke-width="0.3">24 Hour Chart</text>
<text x="36" y="217.2" font-size="99" class="b" fill="#0b1a2b" text-anchor="start" textLength="316" lengthAdjust="spacingAndGlyphs">2.5215</text>
<text x="377.5" y="217.2" font-size="27" class="b" fill="#222d3b" text-anchor="start" textLength="87" lengthAdjust="spacingAndGlyphs" stroke="#222d3b" stroke-width="0.5">-1.17%</text>
<path d="M478.5 198.5H508.5L493.5 222Z" fill="#a51c0c"/>
<text x="989" y="177.2" font-size="30" class="b" fill="#0f1b2b" text-anchor="middle" textLength="94" lengthAdjust="spacingAndGlyphs" stroke="#0f1b2b" stroke-width="0.45">2.5513</text>
<text x="989.3" y="214.5" font-size="26" fill="#222d3b" text-anchor="middle" textLength="64" lengthAdjust="spacingAndGlyphs" stroke="#222d3b" stroke-width="0.3">Open</text>
<text x="1150.5" y="177.2" font-size="30" class="b" fill="#0f1b2b" text-anchor="middle" textLength="93" lengthAdjust="spacingAndGlyphs" stroke="#0f1b2b" stroke-width="0.45">2.6551</text>
<text x="1153.5" y="214.5" font-size="26" fill="#222d3b" text-anchor="middle" textLength="50" lengthAdjust="spacingAndGlyphs" stroke="#222d3b" stroke-width="0.3">High</text>
<text x="1313.7" y="177.2" font-size="30" class="b" fill="#0f1b2b" text-anchor="middle" textLength="94" lengthAdjust="spacingAndGlyphs" stroke="#0f1b2b" stroke-width="0.45">2.5215</text>
<text x="1316.2" y="214.5" font-size="26" fill="#222d3b" text-anchor="middle" textLength="45" lengthAdjust="spacingAndGlyphs" stroke="#222d3b" stroke-width="0.3">Low</text>
<text x="1477" y="177.2" font-size="30" class="b" fill="#0f1b2b" text-anchor="middle" textLength="130" lengthAdjust="spacingAndGlyphs" stroke="#0f1b2b" stroke-width="0.45">260.71 M</text>
<text x="1478.3" y="214.5" font-size="26" fill="#222d3b" text-anchor="middle" textLength="35.5" lengthAdjust="spacingAndGlyphs" stroke="#222d3b" stroke-width="0.3">Vol</text>
<text x="1639.5" y="177.2" font-size="30" class="b" fill="#0f1b2b" text-anchor="middle" textLength="130" lengthAdjust="spacingAndGlyphs" stroke="#0f1b2b" stroke-width="0.45">676.09 M</text>
<text x="1641.5" y="214.5" font-size="26" fill="#222d3b" text-anchor="middle" textLength="92" lengthAdjust="spacingAndGlyphs" stroke="#222d3b" stroke-width="0.3">Vol USD</text>
<text x="1385.5" y="34.2" font-size="25" class="b" fill="#2a2a2a" text-anchor="start" textLength="137" lengthAdjust="spacingAndGlyphs">Powered by</text>
<text x="1432" y="88.6" font-size="37.8" class="b" fill="#0a0a0a" text-anchor="start" textLength="172" lengthAdjust="spacingAndGlyphs" stroke="#0a0a0a" stroke-width="0.7">CoinDesk</text>
<text x="1610" y="88.6" font-size="37.8" class="b" fill="#0a0a0a" text-anchor="start" textLength="81.5" lengthAdjust="spacingAndGlyphs" stroke="#0a0a0a" stroke-width="0.7">Data</text>
<text x="1391" y="134.7" font-size="27" fill="#a9a9a9" text-anchor="start" textLength="300" lengthAdjust="spacingAndGlyphs">14 Oct 2025 05:41 (GMT)</text>
<g id="logo" stroke="#0a0a0a" stroke-width="6.2" stroke-linecap="round" stroke-linejoin="round" fill="none">
<path d="M1421.6 60H1391.3V91.4H1406.3"/>
</g>
<circle cx="1391.3" cy="60" r="5.6" fill="#0a0a0a"/>
<circle cx="1406.3" cy="60" r="5.6" fill="#0a0a0a"/>
<circle cx="1421.6" cy="60" r="5.6" fill="#0a0a0a"/>
<circle cx="1391.3" cy="75.8" r="5.6" fill="#0a0a0a"/>
<circle cx="1391.3" cy="91.4" r="5.6" fill="#0a0a0a"/>
<circle cx="1406.3" cy="91.4" r="5.6" fill="#0a0a0a"/>
<circle cx="1406.3" cy="75.8" r="2.7" fill="#2a2a2a"/>
<circle cx="1421.6" cy="75.8" r="2.7" fill="#2a2a2a"/>
<circle cx="1421.6" cy="91.4" r="2.7" fill="#2a2a2a"/>
<text x="1638" y="276.2" font-size="26.6" class="b" fill="#0f1b2b" text-anchor="start" textLength="50.6" lengthAdjust="spacingAndGlyphs" stroke="#0f1b2b" stroke-width="0.4">2.65</text>
<text x="1638" y="463.9" font-size="26.6" class="b" fill="#0f1b2b" text-anchor="start" textLength="50.6" lengthAdjust="spacingAndGlyphs" stroke="#0f1b2b" stroke-width="0.4">2.60</text>
<text x="1638" y="651.2" font-size="26.6" class="b" fill="#0f1b2b" text-anchor="start" textLength="50.6" lengthAdjust="spacingAndGlyphs" stroke="#0f1b2b" stroke-width="0.4">2.55</text>
<text x="442" y="850.6" font-size="27" class="b" fill="#142030" text-anchor="middle" textLength="68" lengthAdjust="spacingAndGlyphs">12:00</text>
<rect x="440.3" y="799" width="3.4" height="2.2" fill="#142030"/>
<text x="883" y="850.6" font-size="27" class="b" fill="#142030" text-anchor="middle" textLength="68" lengthAdjust="spacingAndGlyphs">18:00</text>
<rect x="881.3" y="799" width="3.4" height="2.2" fill="#142030"/>
<text x="1324" y="850.6" font-size="27" class="b" fill="#142030" text-anchor="middle" textLength="68" lengthAdjust="spacingAndGlyphs">00:00</text>
<rect x="1322.3" y="799" width="3.4" height="2.2" fill="#142030"/>
<g clip-path="url(#card)">
<text x="1" y="850.6" font-size="27" class="b" fill="#142030" text-anchor="middle" textLength="68" lengthAdjust="spacingAndGlyphs">06:00</text>
<rect x="-12" y="-12" width="17.4" height="1086.8" fill="#a51c0c"/>
</g>
<text x="1569.5" y="849.8" font-size="26.5" class="b" fill="#91887f" text-anchor="start" textLength="121" lengthAdjust="spacingAndGlyphs">5,000,000</text>
</g>
</svg>
</body></html>
